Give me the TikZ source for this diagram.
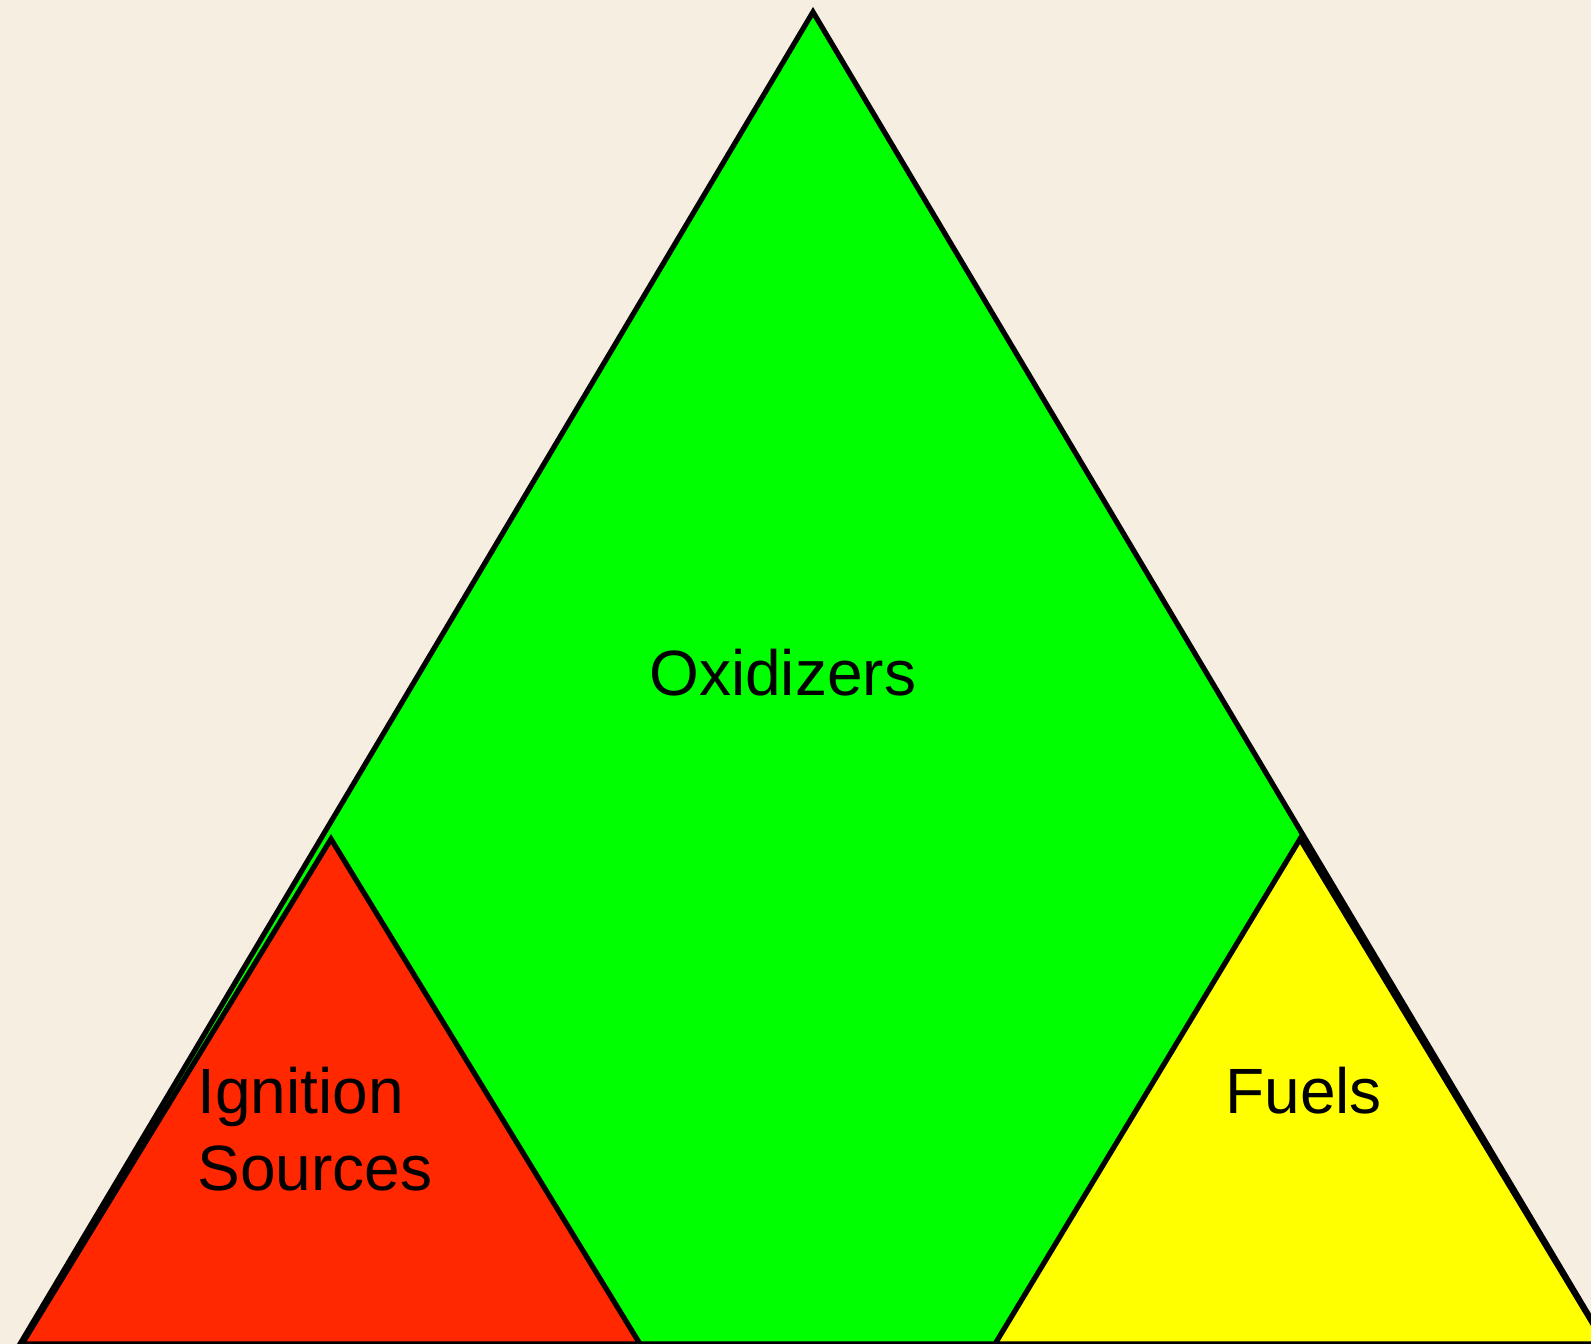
\documentclass[tikz,border=0pt]{standalone}
\usepackage{fontspec}
\setmainfont{Liberation Sans}
\definecolor{paper}{RGB}{247,238,226}
\definecolor{oxgreen}{RGB}{0,255,0}
\definecolor{igred}{RGB}{255,40,0}
\definecolor{fuyellow}{RGB}{255,255,0}
\tikzset{
	side/.style={line width=2.6pt, draw=black, line join=miter},
	label text/.style={inner sep=0pt, anchor=base west, align=left, font=\fontsize{32}{38.5}\selectfont}
}

\begin{document}
\begin{tikzpicture}[x=0.5pt, y=-0.5pt]
			%%%%% START %%%%%
			
			\useasboundingbox (0, 0) rectangle (1591, 1344);
			\fill[paper] (0, 0) rectangle (1591, 1344);
			\clip (0, 0) rectangle (1591, 1344);
			
			% oxidizers, the big one
			\draw[side, fill=oxgreen] (20, 1344) -- (813, 12) -- (1606, 1344) -- cycle;
			
			% ignition sources
			\draw[side, fill=igred] (22, 1344) -- (331, 839) -- (640, 1344) -- cycle;
			
			% fuels
			\draw[side, fill=fuyellow] (995, 1344) -- (1300, 839) -- (1605, 1344) -- cycle;
			
			\node[label text] (oxidizers) at (649, 695) {Oxidizers};
			\node[label text] (ignition) at (197, 1190) {Ignition\\Sources};
			\node[label text] (fuels) at (1225, 1113) {Fuels};
			
			%%%%% END %%%%%
\end{tikzpicture}
\end{document}
